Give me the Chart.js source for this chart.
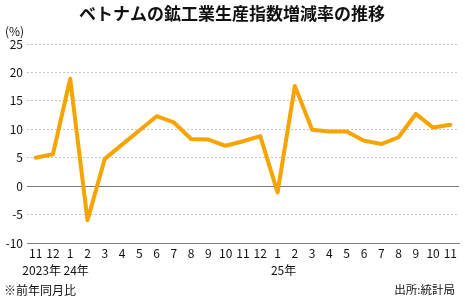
<!DOCTYPE html>
<html>
<head>
<meta charset="utf-8">
<script src="https://cdn.jsdelivr.net/npm/chart.js@4"></script>
<style>
  html, body { margin: 0; padding: 0; background: #fff; }
  #wrap { width: 465px; height: 300px; position: relative; }
</style>
</head>
<body>
<div id="wrap"><canvas id="c" width="465" height="300"></canvas></div>
<script>
const titleText = 'ベトナムの鉱工業生産指数増減率の推移';
const unitText = '(%)';
const noteText = '※前年同月比';
const sourceText = '出所:統計局';
const months = ['11','12','1','2','3','4','5','6','7','8','9','10','11','12','1','2','3','4','5','6','7','8','9','10','11'];
const yearLabels = [[0, '2023年'], [2, '24年'], [14, '25年']];
const growth = [5.0, 5.6, 18.9, -6.0, 4.8, 7.3, 9.8, 12.3, 11.2, 8.3, 8.2, 7.1, 7.9, 8.8, -1.1, 17.6, 9.9, 9.6, 9.6, 8.0, 7.4, 8.6, 12.7, 10.3, 10.8];
const yMin = -10, yMax = 25, yStep = 5;

const FONT = '"Noto Sans CJK JP", "Noto Sans", sans-serif';

const decor = {
  id: 'decor',
  beforeDatasetsDraw(chart) {
    const {ctx, chartArea, scales} = chart;
    const y0 = Math.round(scales.y.getPixelForValue(0)) + 0.5;
    ctx.save();
    ctx.strokeStyle = '#7a7a7a';
    ctx.lineWidth = 1;
    ctx.beginPath();
    ctx.moveTo(chartArea.left, y0);
    ctx.lineTo(chartArea.right, y0);
    ctx.stroke();
    ctx.restore();
  },
  afterDraw(chart) {
    const {ctx, scales} = chart;
    ctx.save();
    ctx.fillStyle = '#111';
    ctx.textBaseline = 'middle';
    ctx.font = 'bold 17px ' + FONT;
    ctx.textAlign = 'center';
    ctx.fillText(titleText, 232, 14);
    ctx.font = '12px ' + FONT;
    ctx.textAlign = 'left';
    ctx.fillText(unitText, 5, 31);
    ctx.textAlign = 'center';
    yearLabels.forEach(([i, t]) => {
      ctx.fillText(t, scales.x.getPixelForValue(i) + 6, 270);
    });
    ctx.textAlign = 'left';
    ctx.fillText(noteText, 4, 290);
    ctx.font = '11.5px ' + FONT;
    ctx.textAlign = 'right';
    ctx.fillText(sourceText, 455, 290);
    ctx.restore();
  }
};

new Chart(document.getElementById('c'), {
  type: 'line',
  data: {
    labels: months,
    datasets: [{
      data: growth,
      borderColor: '#F7A400',
      borderWidth: 4,
      borderJoinStyle: 'round',
      borderCapStyle: 'round',
      pointRadius: 0,
      tension: 0,
      fill: false
    }]
  },
  options: {
    responsive: false,
    animation: false,
    devicePixelRatio: 1,
    layout: { padding: { top: 44, right: 6, bottom: 0, left: 0 } },
    plugins: { legend: { display: false }, tooltip: { enabled: false }, title: { display: false } },
    scales: {
      x: {
        offset: true,
        grid: { display: false, drawTicks: false },
        border: { display: true, color: '#808080', width: 1 },
        ticks: { color: '#111', font: { family: FONT, size: 12 }, padding: 3, maxRotation: 0, autoSkip: false },
        afterFit(s) { s.height = 57; }
      },
      y: {
        min: yMin, max: yMax,
        ticks: { stepSize: yStep, color: '#111', font: { family: FONT, size: 12 }, padding: 4 },
        grid: {
          drawTicks: false,
          color(ctx) {
            const v = ctx.tick && ctx.tick.value;
            return (v === 0 || v === yMin) ? 'rgba(0,0,0,0)' : '#c4c4c4';
          },
          lineWidth: 1
        },
        border: { display: false, dash: [2, 2] },
        afterFit(s) { s.width = 27; }
      }
    }
  },
  plugins: [decor]
});
</script>
</body>
</html>
